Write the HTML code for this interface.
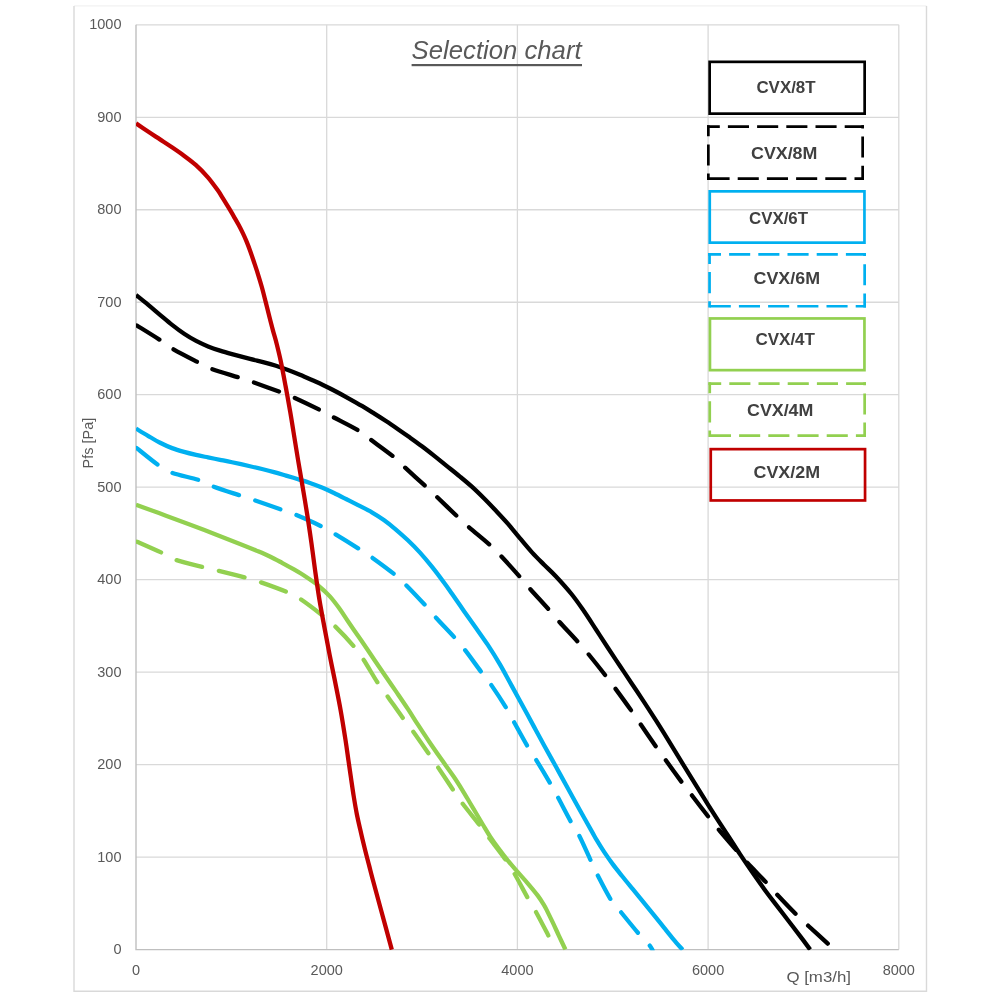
<!DOCTYPE html>
<html lang="en"><head><meta charset="utf-8"><title>Selection chart</title>
<style>
html,body{margin:0;padding:0;background:#fff;}
body{width:1000px;height:1000px;overflow:hidden;}
svg{display:block;will-change:transform;font-family:"Liberation Sans",Arial,sans-serif;}
.ax text{font-size:14.5px;fill:#595959;}
.ax text.t{font-size:15.5px;}
.leg text{font-size:17px;font-weight:bold;fill:#404040;}
.grid line{stroke:#D9D9D9;stroke-width:1.3;}
.cv path{fill:none;stroke-width:4.3;stroke-linejoin:round;}
</style></head><body>
<svg width="1000" height="1000" viewBox="0 0 1000 1000">
<rect x="0" y="0" width="1000" height="1000" fill="#fff"/>
<line x1="74" y1="5.9" x2="926.5" y2="5.9" stroke="#F2F2F2" stroke-width="1.3"/>
<path d="M74.0,6 V991.3 H926.5 V6" fill="none" stroke="#D9D9D9" stroke-width="1.4"/>
<g class="grid"><line x1="326.70" y1="24.80" x2="326.70" y2="949.60"/><line x1="517.40" y1="24.80" x2="517.40" y2="949.60"/><line x1="708.10" y1="24.80" x2="708.10" y2="949.60"/><line x1="898.80" y1="24.80" x2="898.80" y2="949.60"/><line x1="136.00" y1="24.80" x2="898.80" y2="24.80"/><line x1="136.00" y1="117.28" x2="898.80" y2="117.28"/><line x1="136.00" y1="209.76" x2="898.80" y2="209.76"/><line x1="136.00" y1="302.24" x2="898.80" y2="302.24"/><line x1="136.00" y1="394.72" x2="898.80" y2="394.72"/><line x1="136.00" y1="487.20" x2="898.80" y2="487.20"/><line x1="136.00" y1="579.68" x2="898.80" y2="579.68"/><line x1="136.00" y1="672.16" x2="898.80" y2="672.16"/><line x1="136.00" y1="764.64" x2="898.80" y2="764.64"/><line x1="136.00" y1="857.12" x2="898.80" y2="857.12"/></g>
<path d="M136.0,24.8 V949.6 H898.8" fill="none" stroke="#BFBFBF" stroke-width="1.4"/>
<g class="ax"><text x="121.5" y="29.30" text-anchor="end">1000</text><text x="121.5" y="121.78" text-anchor="end">900</text><text x="121.5" y="214.26" text-anchor="end">800</text><text x="121.5" y="306.74" text-anchor="end">700</text><text x="121.5" y="399.22" text-anchor="end">600</text><text x="121.5" y="491.70" text-anchor="end">500</text><text x="121.5" y="584.18" text-anchor="end">400</text><text x="121.5" y="676.66" text-anchor="end">300</text><text x="121.5" y="769.14" text-anchor="end">200</text><text x="121.5" y="861.62" text-anchor="end">100</text><text x="121.5" y="954.10" text-anchor="end">0</text><text x="136.00" y="975.1" text-anchor="middle">0</text><text x="326.70" y="975.1" text-anchor="middle">2000</text><text x="517.40" y="975.1" text-anchor="middle">4000</text><text x="708.10" y="975.1" text-anchor="middle">6000</text><text x="898.80" y="975.1" text-anchor="middle">8000</text>
<text class="t" transform="translate(92.9,443.1) rotate(-90)" text-anchor="middle" textLength="50.6" lengthAdjust="spacingAndGlyphs">Pfs [Pa]</text>
<text class="t" x="786.4" y="982" textLength="64.6" lengthAdjust="spacingAndGlyphs">Q [m3/h]</text>
</g>
<text x="411.6" y="59.2" textLength="170" lengthAdjust="spacingAndGlyphs" font-size="25" font-style="italic" fill="#595959">Selection chart</text>
<rect x="411.6" y="64" width="170.4" height="2.2" fill="#595959"/>
<clipPath id="pc"><rect x="136.0" y="0" width="800" height="950.3000000000001"/></clipPath>
<g class="cv" clip-path="url(#pc)">
<path id="c8t" d="M136.00,295.00 C137.99,296.61 143.95,301.36 147.95,304.66 C151.95,307.96 155.97,311.43 160.00,314.80 C164.03,318.17 168.08,321.71 172.10,324.87 C176.13,328.04 180.14,331.10 184.15,333.78 C188.15,336.46 192.14,338.85 196.13,340.95 C200.12,343.06 204.09,344.80 208.07,346.42 C212.06,348.04 216.05,349.38 220.04,350.67 C224.03,351.96 227.01,352.79 232.01,354.16 C237.01,355.53 244.70,357.54 250.02,358.90 C255.35,360.26 259.65,361.18 263.97,362.32 C268.29,363.45 271.96,364.46 275.96,365.73 C279.96,366.99 283.97,368.40 287.97,369.89 C291.97,371.39 295.96,373.00 299.96,374.69 C303.97,376.37 308.00,378.20 312.00,380.00 C316.00,381.80 319.97,383.57 323.96,385.49 C327.95,387.40 331.95,389.39 335.96,391.48 C339.96,393.57 343.67,395.60 347.99,398.01 C352.32,400.42 357.59,403.36 361.92,405.93 C366.26,408.49 370.00,410.88 374.00,413.40 C378.00,415.92 381.95,418.44 385.95,421.07 C389.95,423.71 393.98,426.47 397.98,429.22 C401.99,431.98 405.99,434.78 409.98,437.62 C413.98,440.47 417.94,443.29 421.93,446.29 C425.93,449.29 429.95,452.46 433.97,455.64 C437.98,458.82 441.69,461.88 446.03,465.37 C450.36,468.85 455.65,473.01 459.96,476.56 C464.26,480.10 467.86,483.04 471.85,486.66 C475.85,490.28 479.90,494.26 483.92,498.28 C487.95,502.30 492.02,506.58 496.00,510.80 C499.98,515.02 503.78,518.99 507.79,523.58 C511.80,528.17 515.98,533.52 520.05,538.36 C524.12,543.20 528.21,548.21 532.21,552.61 C536.21,557.00 540.14,560.79 544.07,564.73 C548.00,568.66 551.17,571.30 555.77,576.22 C560.37,581.15 566.97,588.46 571.66,594.27 C576.34,600.08 579.82,605.21 583.88,611.08 C587.94,616.95 591.97,623.35 596.00,629.50 C600.03,635.65 604.04,641.89 608.04,647.97 C612.04,654.06 616.00,660.00 620.00,666.00 C624.00,672.00 628.03,678.02 632.02,683.99 C636.01,689.96 639.95,695.77 643.94,701.84 C647.93,707.92 651.95,714.13 655.95,720.43 C659.96,726.73 663.94,733.14 667.95,739.63 C671.96,746.12 676.00,752.83 680.02,759.39 C684.03,765.95 688.03,772.51 692.03,778.98 C696.03,785.45 699.99,791.81 704.00,798.20 C708.01,804.59 712.11,811.13 716.10,817.34 C720.08,823.55 723.91,829.29 727.92,835.45 C731.93,841.61 736.11,848.26 740.13,854.32 C744.14,860.37 748.02,866.02 752.02,871.79 C756.02,877.55 760.14,883.43 764.13,888.90 C768.13,894.37 772.02,899.38 776.00,904.60 C779.98,909.82 784.01,914.99 788.00,920.20 C791.99,925.41 796.25,930.94 799.95,935.84 C803.65,940.74 808.49,947.31 810.20,949.60" stroke="#000"/>
<path id="c8m" d="M136.00,325.00 C140.00,327.50 153.92,336.04 160.00,340.00 C166.08,343.96 166.25,345.08 172.50,348.75 C178.75,352.42 191.04,358.67 197.50,362.00 C203.96,365.33 204.38,366.17 211.25,368.75 C218.12,371.33 231.88,375.29 238.75,377.50 C245.62,379.71 245.62,379.58 252.50,382.00 C259.38,384.42 273.12,389.42 280.00,392.00 C286.88,394.58 287.08,394.50 293.75,397.50 C300.42,400.50 313.54,406.79 320.00,410.00 C326.46,413.21 326.08,413.33 332.50,416.75 C338.92,420.17 352.17,426.71 358.50,430.50 C364.83,434.29 364.75,435.21 370.50,439.50 C376.25,443.79 387.25,451.58 393.00,456.25 C398.75,460.92 399.58,462.50 405.00,467.50 C410.42,472.50 420.17,481.33 425.50,486.25 C430.83,491.17 431.75,492.00 437.00,497.00 C442.25,502.00 451.71,511.25 457.00,516.25 C462.29,521.25 463.25,522.21 468.75,527.00 C474.25,531.79 484.58,540.12 490.00,545.00 C495.42,549.88 496.25,550.92 501.25,556.25 C506.25,561.58 515.21,571.58 520.00,577.00 C524.79,582.42 525.21,583.33 530.00,588.75 C534.79,594.17 543.83,603.96 548.75,609.50 C553.67,615.04 554.71,616.67 559.50,622.00 C564.29,627.33 572.62,636.08 577.50,641.50 C582.38,646.92 584.08,648.83 588.75,654.50 C593.42,660.17 601.04,669.79 605.50,675.50 C609.96,681.21 611.21,682.92 615.50,688.75 C619.79,694.58 627.04,704.54 631.25,710.50 C635.46,716.46 636.58,718.42 640.75,724.50 C644.92,730.58 652.04,741.00 656.25,747.00 C660.46,753.00 661.71,754.58 666.00,760.50 C670.29,766.42 677.67,776.67 682.00,782.50 C686.33,788.33 687.54,789.71 692.00,795.50 C696.46,801.29 704.17,811.42 708.75,817.25 C713.33,823.08 714.71,824.79 719.50,830.50 C724.29,836.21 732.83,846.08 737.50,851.50 C742.17,856.92 742.71,857.83 747.50,863.00 C752.29,868.17 761.25,877.17 766.25,882.50 C771.25,887.83 772.50,889.67 777.50,895.00 C782.50,900.33 791.04,909.29 796.25,914.50 C801.46,919.71 803.33,921.25 808.75,926.25 C814.17,931.25 825.42,941.46 828.75,944.50" stroke="#000" stroke-linecap="round" stroke-dasharray="26.2 17.5" stroke-dashoffset="-1.2"/>
<path id="c6t" d="M136.00,428.60 C138.00,429.80 143.98,433.44 148.00,435.80 C152.02,438.16 156.11,440.70 160.13,442.75 C164.15,444.81 168.12,446.60 172.10,448.12 C176.09,449.65 180.04,450.77 184.03,451.90 C188.01,453.03 192.03,453.98 196.02,454.90 C200.02,455.82 204.00,456.58 208.00,457.40 C212.00,458.22 216.00,458.99 220.00,459.80 C224.00,460.61 226.99,461.18 231.99,462.25 C236.99,463.32 244.99,465.10 249.99,466.23 C254.99,467.36 258.00,468.05 261.99,469.03 C265.99,470.01 269.97,471.00 273.97,472.10 C277.97,473.19 282.00,474.42 286.00,475.60 C290.00,476.78 294.01,477.97 298.00,479.20 C301.99,480.43 305.96,481.57 309.95,482.96 C313.94,484.35 317.93,485.86 321.94,487.55 C325.94,489.23 329.96,491.14 333.97,493.06 C337.98,494.97 341.98,497.01 345.99,499.03 C350.00,501.04 353.72,502.93 358.03,505.14 C362.34,507.35 367.54,509.80 371.84,512.28 C376.14,514.76 379.84,517.13 383.85,520.01 C387.86,522.88 391.89,526.14 395.90,529.52 C399.90,532.91 403.91,536.50 407.90,540.31 C411.88,544.12 415.80,547.99 419.79,552.39 C423.79,556.79 427.85,561.67 431.87,566.70 C435.90,571.73 440.58,578.03 443.93,582.55 C447.28,587.07 448.62,589.05 451.97,593.82 C455.32,598.59 460.04,605.47 464.05,611.17 C468.05,616.86 472.04,622.37 476.00,628.00 C479.96,633.63 483.84,638.91 487.81,644.93 C491.77,650.95 496.14,657.95 499.78,664.13 C503.42,670.30 506.40,676.09 509.64,681.98 C512.87,687.88 516.15,693.91 519.20,699.50 C522.26,705.09 525.16,710.35 527.97,715.52 C530.77,720.68 533.34,725.54 536.02,730.49 C538.70,735.43 540.70,739.13 544.03,745.19 C547.36,751.24 552.01,759.59 556.00,766.80 C559.99,774.01 563.94,781.13 567.96,788.42 C571.97,795.72 576.09,803.35 580.09,810.55 C584.09,817.75 589.19,826.73 591.94,831.63 C594.70,836.53 594.59,836.55 596.62,839.93 C598.64,843.32 601.46,847.93 604.11,851.93 C606.76,855.92 609.55,859.89 612.53,863.90 C615.52,867.91 618.65,871.76 622.02,875.98 C625.40,880.20 629.20,884.80 632.80,889.20 C636.40,893.60 640.00,898.00 643.60,902.40 C647.20,906.80 650.98,911.42 654.38,915.62 C657.78,919.82 660.78,923.62 664.00,927.60 C667.22,931.58 670.59,935.82 673.69,939.52 C676.79,943.22 681.12,948.09 682.60,949.80" stroke="#00B0F0"/>
<path id="c6m" d="M136.00,447.50 C139.58,450.33 151.62,460.33 157.50,464.50 C163.38,468.67 164.38,469.92 171.25,472.50 C178.12,475.08 191.88,477.71 198.75,480.00 C205.62,482.29 205.62,483.67 212.50,486.25 C219.38,488.83 233.12,493.21 240.00,495.50 C246.88,497.79 246.88,497.67 253.75,500.00 C260.62,502.33 274.38,507.08 281.25,509.50 C288.12,511.92 288.33,511.71 295.00,514.50 C301.67,517.29 314.67,523.04 321.25,526.25 C327.83,529.46 328.25,530.00 334.50,533.75 C340.75,537.50 352.50,544.79 358.75,548.75 C365.00,552.71 366.17,553.33 372.00,557.50 C377.83,561.67 388.08,569.17 393.75,573.75 C399.42,578.33 400.79,579.79 406.00,585.00 C411.21,590.21 419.96,599.50 425.00,605.00 C430.04,610.50 431.33,612.58 436.25,618.00 C441.17,623.42 449.71,632.17 454.50,637.50 C459.29,642.83 460.54,644.25 465.00,650.00 C469.46,655.75 476.88,666.17 481.25,672.00 C485.62,677.83 487.08,679.00 491.25,685.00 C495.42,691.00 502.42,701.75 506.25,708.00 C510.08,714.25 510.71,716.12 514.25,722.50 C517.79,728.88 523.83,740.00 527.50,746.25 C531.17,752.50 532.50,753.88 536.25,760.00 C540.00,766.12 546.38,776.75 550.00,783.00 C553.62,789.25 554.50,791.00 558.00,797.50 C561.50,804.00 567.42,815.54 571.00,822.00 C574.58,828.46 576.25,829.92 579.50,836.25 C582.75,842.58 587.50,853.54 590.50,860.00 C593.50,866.46 594.12,868.42 597.50,875.00 C600.88,881.58 606.79,893.25 610.75,899.50 C614.71,905.75 616.58,906.79 621.25,912.50 C625.92,918.21 634.08,928.33 638.75,933.75 C643.42,939.17 646.96,942.29 649.25,945.00 C651.54,947.71 651.96,949.17 652.50,950.00" stroke="#00B0F0" stroke-linecap="round" stroke-dasharray="26.2 17.5" stroke-dashoffset="-1.2"/>
<path id="c4t" d="M136.00,504.80 C141.00,506.61 154.58,511.47 165.97,515.68 C177.37,519.89 192.04,525.37 204.37,530.07 C216.71,534.77 231.36,540.49 239.97,543.88 C248.57,547.27 251.01,548.31 256.00,550.40 C260.98,552.50 265.55,554.38 269.88,556.45 C274.21,558.52 277.99,560.63 282.00,562.80 C286.01,564.97 289.97,567.15 293.95,569.48 C297.94,571.80 301.93,574.12 305.90,576.75 C309.88,579.38 313.84,582.02 317.80,585.26 C321.75,588.49 326.01,592.27 329.62,596.15 C333.22,600.03 336.33,604.31 339.41,608.53 C342.49,612.76 344.99,616.94 348.12,621.52 C351.24,626.10 354.89,631.28 358.16,636.03 C361.44,640.78 365.05,646.03 367.76,650.02 C370.48,654.02 371.73,655.98 374.44,659.98 C377.14,663.97 380.41,668.76 384.01,674.00 C387.60,679.23 392.03,685.58 396.00,691.40 C399.97,697.22 404.17,703.31 407.85,708.90 C411.54,714.49 414.40,719.25 418.10,724.93 C421.80,730.61 426.05,737.07 430.05,742.97 C434.05,748.87 438.14,754.70 442.10,760.33 C446.06,765.96 450.43,771.78 453.80,776.74 C457.17,781.69 459.63,785.67 462.33,790.04 C465.03,794.42 467.75,799.16 470.02,802.99 C472.30,806.81 473.86,809.42 475.99,813.01 C478.12,816.59 480.42,820.56 482.79,824.51 C485.16,828.45 487.59,832.69 490.20,836.67 C492.81,840.64 495.46,844.32 498.45,848.36 C501.44,852.40 504.87,856.87 508.14,860.89 C511.40,864.91 514.75,868.68 518.04,872.46 C521.34,876.24 524.62,879.71 527.91,883.58 C531.20,887.44 535.12,892.11 537.78,895.66 C540.44,899.21 542.35,902.38 543.88,904.87 C545.41,907.36 545.50,907.69 546.97,910.61 C548.45,913.54 550.76,918.27 552.73,922.43 C554.71,926.59 556.73,931.07 558.84,935.58 C560.95,940.09 564.31,947.18 565.40,949.50" stroke="#92D050"/>
<path id="c4m" d="M136.00,541.25 C140.21,543.12 154.54,549.38 161.25,552.50 C167.96,555.62 169.38,557.58 176.25,560.00 C183.12,562.42 195.62,565.25 202.50,567.00 C209.38,568.75 210.42,568.75 217.50,570.50 C224.58,572.25 237.92,575.58 245.00,577.50 C252.08,579.42 253.12,579.62 260.00,582.00 C266.88,584.38 279.58,588.96 286.25,591.75 C292.92,594.54 294.17,594.96 300.00,598.75 C305.83,602.54 315.42,609.92 321.25,614.50 C327.08,619.08 329.58,620.96 335.00,626.25 C340.42,631.54 348.96,640.62 353.75,646.25 C358.54,651.88 359.79,653.96 363.75,660.00 C367.71,666.04 373.54,676.46 377.50,682.50 C381.46,688.54 383.33,690.42 387.50,696.25 C391.67,702.08 398.25,711.67 402.50,717.50 C406.75,723.33 408.62,725.21 413.00,731.25 C417.38,737.29 424.58,747.75 428.75,753.75 C432.92,759.75 433.96,761.25 438.00,767.25 C442.04,773.25 448.92,783.71 453.00,789.75 C457.08,795.79 458.04,797.58 462.50,803.50 C466.96,809.42 475.38,819.58 479.75,825.25 C484.12,830.92 484.54,831.88 488.75,837.50 C492.96,843.12 500.71,852.96 505.00,859.00 C509.29,865.04 510.75,867.33 514.50,873.75 C518.25,880.17 523.88,891.04 527.50,897.50 C531.12,903.96 532.71,906.04 536.25,912.50 C539.79,918.96 546.67,932.29 548.75,936.25" stroke="#92D050" stroke-linecap="round" stroke-dasharray="26.2 17.5" stroke-dashoffset="-1.2"/>
<path id="c2m" d="M136.00,123.40 C138.01,124.76 144.03,128.88 148.03,131.55 C152.03,134.22 156.01,136.78 160.00,139.40 C163.99,142.02 167.96,144.56 171.95,147.27 C175.94,149.98 179.99,152.73 183.95,155.67 C187.91,158.61 191.77,161.35 195.72,164.92 C199.68,168.48 204.04,172.86 207.69,177.06 C211.34,181.26 215.02,186.44 217.64,190.11 C220.25,193.78 221.51,196.08 223.40,199.10 C225.29,202.12 227.21,205.30 228.96,208.22 C230.71,211.14 232.28,213.80 233.90,216.60 C235.52,219.40 237.20,222.25 238.71,225.05 C240.21,227.86 241.66,230.74 242.95,233.42 C244.23,236.11 245.25,238.34 246.41,241.14 C247.58,243.94 248.69,246.83 249.92,250.23 C251.16,253.62 252.46,257.53 253.80,261.50 C255.13,265.47 256.59,269.73 257.93,274.02 C259.28,278.31 260.60,282.64 261.88,287.23 C263.16,291.83 264.38,296.81 265.60,301.60 C266.82,306.39 267.98,311.21 269.20,316.00 C270.42,320.79 271.82,326.27 272.93,330.36 C274.03,334.45 274.55,335.52 275.83,340.55 C277.11,345.58 278.98,352.97 280.61,360.54 C282.23,368.12 283.95,377.36 285.57,386.01 C287.19,394.65 288.99,404.75 290.31,412.42 C291.63,420.08 292.22,424.07 293.51,432.00 C294.80,439.93 296.52,450.72 298.06,459.99 C299.60,469.26 301.19,478.20 302.77,487.61 C304.34,497.01 306.06,507.18 307.51,516.41 C308.95,525.65 310.16,534.08 311.42,543.01 C312.68,551.94 313.71,560.50 315.05,569.99 C316.39,579.48 317.88,590.29 319.46,599.96 C321.04,609.63 322.85,618.84 324.55,628.01 C326.24,637.18 327.93,646.31 329.63,654.97 C331.33,663.64 332.92,670.83 334.75,680.01 C336.57,689.19 338.80,700.04 340.60,710.04 C342.39,720.04 344.19,731.52 345.51,740.01 C346.83,748.51 347.61,754.66 348.53,761.00 C349.44,767.33 350.14,772.17 350.99,778.00 C351.85,783.83 352.70,790.00 353.67,795.99 C354.64,801.98 355.61,807.96 356.80,813.96 C357.99,819.96 359.42,826.00 360.80,832.00 C362.18,838.00 363.71,844.37 365.10,849.98 C366.49,855.58 367.86,860.61 369.15,865.61 C370.45,870.61 370.99,872.91 372.88,879.98 C374.77,887.05 377.33,896.40 380.48,908.01 C383.64,919.61 389.91,942.67 391.80,949.60" stroke="#C00000"/>
</g>
<g class="leg"><rect x="709.65" y="61.85" width="155.00" height="51.80" fill="none" stroke="#000" stroke-width="2.70"/><text x="756.40" y="93.00" textLength="59.2" lengthAdjust="spacingAndGlyphs">CVX/8T</text><g stroke="#000" stroke-width="2.70" stroke-dasharray="21.1 8.1" fill="none"><line x1="707.00" y1="126.65" x2="864.00" y2="126.65" stroke-dashoffset="8.3"/><line x1="862.65" y1="125.30" x2="862.65" y2="180.00" stroke-dashoffset="18"/><line x1="707.00" y1="178.65" x2="864.00" y2="178.65" stroke-dashoffset="27.7"/><line x1="708.35" y1="125.30" x2="708.35" y2="180.00" stroke-dashoffset="10.1"/></g><text x="751.00" y="159.00" textLength="66.4" lengthAdjust="spacingAndGlyphs">CVX/8M</text><rect x="709.75" y="191.35" width="154.70" height="51.30" fill="none" stroke="#00B0F0" stroke-width="2.70"/><text x="749.00" y="223.60" textLength="59.0" lengthAdjust="spacingAndGlyphs">CVX/6T</text><g stroke="#00B0F0" stroke-width="2.70" stroke-dasharray="21.1 8.1" fill="none"><line x1="708.20" y1="254.35" x2="866.00" y2="254.35" stroke-dashoffset="8.3"/><line x1="864.65" y1="253.00" x2="864.65" y2="307.60" stroke-dashoffset="18"/><line x1="708.20" y1="306.25" x2="866.00" y2="306.25" stroke-dashoffset="27.7"/><line x1="709.55" y1="253.00" x2="709.55" y2="307.60" stroke-dashoffset="10.1"/></g><text x="753.60" y="284.40" textLength="66.4" lengthAdjust="spacingAndGlyphs">CVX/6M</text><rect x="709.95" y="318.45" width="154.50" height="51.70" fill="none" stroke="#92D050" stroke-width="2.70"/><text x="755.40" y="345.00" textLength="59.6" lengthAdjust="spacingAndGlyphs">CVX/4T</text><g stroke="#92D050" stroke-width="2.70" stroke-dasharray="21.1 8.1" fill="none"><line x1="708.40" y1="383.55" x2="866.00" y2="383.55" stroke-dashoffset="8.3"/><line x1="864.65" y1="382.20" x2="864.65" y2="437.00" stroke-dashoffset="18"/><line x1="708.40" y1="435.65" x2="866.00" y2="435.65" stroke-dashoffset="27.7"/><line x1="709.75" y1="382.20" x2="709.75" y2="437.00" stroke-dashoffset="10.1"/></g><text x="747.00" y="415.60" textLength="66.4" lengthAdjust="spacingAndGlyphs">CVX/4M</text><rect x="710.75" y="449.15" width="154.30" height="51.30" fill="none" stroke="#C00000" stroke-width="2.70"/><text x="753.60" y="478.40" textLength="66.4" lengthAdjust="spacingAndGlyphs">CVX/2M</text></g>
</svg>
</body></html>
